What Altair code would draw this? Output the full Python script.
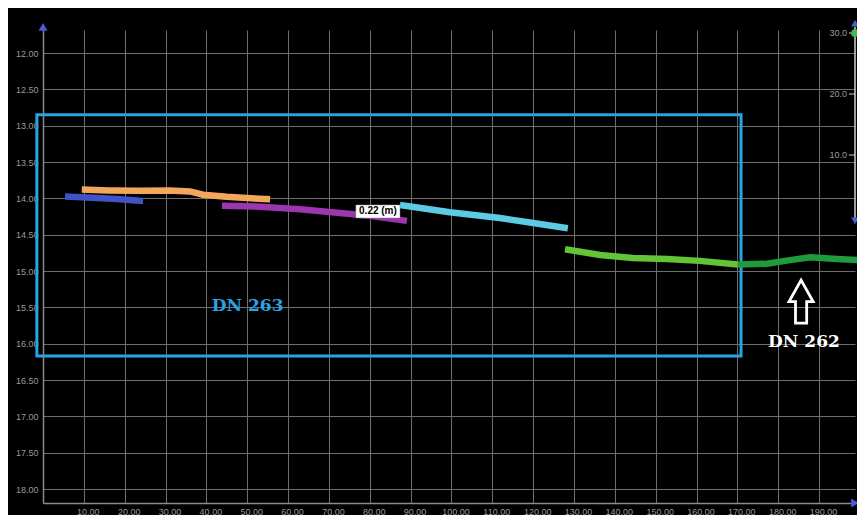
import altair as alt
import pandas as pd

# ---- profile segments (distance, elevation) ----
blue_x = [5.4, 12.0, 18.0, 24.5]
blue_y = [13.975, 13.99, 14.01, 14.035]
orange_x = [9.5, 16.0, 23.7, 31.1, 36.0, 39.2, 45.0, 50.0, 55.6]
orange_y = [13.878, 13.89, 13.895, 13.89, 13.905, 13.95, 13.978, 13.995, 14.013]
purple_x = [43.8, 53.1, 62.9, 72.7, 80.0, 89.1]
purple_y = [14.10, 14.115, 14.15, 14.20, 14.24, 14.31]
cyan_x = [87.4, 99.6, 111.9, 120.0, 128.5]
cyan_y = [14.09, 14.19, 14.27, 14.34, 14.41]
lgreen_x = [127.8, 136.4, 144.4, 152.8, 160.8, 170.1]
lgreen_y = [14.70, 14.78, 14.82, 14.835, 14.86, 14.91]
dgreen_x = [170.1, 177.2, 182.9, 187.8, 194.4, 199.5]
dgreen_y = [14.91, 14.90, 14.85, 14.81, 14.835, 14.85]

seg_names = ["blue", "orange", "purple", "cyan", "lgreen", "dgreen"]
seg_colors = ["#4253c6", "#f4a75c", "#9b36ae", "#5ccbe3", "#62c436", "#1f9a3c"]
seg_x = [blue_x, orange_x, purple_x, cyan_x, lgreen_x, dgreen_x]
seg_y = [blue_y, orange_y, purple_y, cyan_y, lgreen_y, dgreen_y]

# axis ticks
x_ticks = [10, 20, 30, 40, 50, 60, 70, 80, 90, 100, 110, 120, 130, 140, 150,
           160, 170, 180, 190]
y_ticks = [12.0, 12.5, 13.0, 13.5, 14.0, 14.5, 15.0, 15.5, 16.0, 16.5, 17.0,
           17.5, 18.0]
x_domain = [0, 198.8]
y_domain = [11.683, 18.192]

# secondary (right) axis
sec_ticks = [10, 20, 30]
sec_domain = [0, 30]

# annotations
box_x = [-1.5, 170.9]
box_y = [12.85, 16.17]
diff_label = "0.22 (m)"
diff_box_x = [76.6, 87.4]
diff_box_y = [14.09, 14.27]
diff_pos = [82.0, 14.18]
dn263_pos = [50.1, 15.48]
dn262_pos = [186.3, 15.98]
arrow_pos = [185.6, 15.42]

rows = []
for n, xs, ys in zip(seg_names, seg_x, seg_y):
    for i, (a, b) in enumerate(zip(xs, ys)):
        rows.append({"seg": n, "x": a, "y": b, "i": i})
seg_df = pd.DataFrame(rows)

X = alt.X("x:Q", scale=alt.Scale(domain=x_domain, nice=False, zero=False),
          axis=alt.Axis(values=x_ticks, format=".2f", title=None, labelOffset=4,
                        labelPadding=4, labelOverlap=False))
Y = alt.Y("y:Q", scale=alt.Scale(domain=y_domain, nice=False, zero=False, reverse=True),
          axis=alt.Axis(values=y_ticks, format=".2f", title=None, labelPadding=5,
                        labelOverlap=False))

box = alt.Chart(pd.DataFrame({"x": [box_x[0]], "x2": [box_x[1]],
                              "y": [box_y[0]], "y2": [box_y[1]]})).mark_rect(
    fillOpacity=0, stroke="#2aa3e2", strokeWidth=3).encode(x=X, x2="x2:Q", y=Y, y2="y2:Q")

lines = alt.Chart(seg_df).mark_line(strokeWidth=6.5, strokeCap="butt").encode(
    x=X, y=Y,
    color=alt.Color("seg:N", scale=alt.Scale(domain=seg_names, range=seg_colors), legend=None),
    detail="seg:N", order="i:Q")

lab_box = alt.Chart(pd.DataFrame({"x": [diff_box_x[0]], "x2": [diff_box_x[1]],
                                  "y": [diff_box_y[0]], "y2": [diff_box_y[1]]})).mark_rect(
    fill="white", stroke="#888888", strokeWidth=0.5).encode(x=X, x2="x2:Q", y=Y, y2="y2:Q")
lab_txt = alt.Chart(pd.DataFrame({"x": [diff_pos[0]], "y": [diff_pos[1]], "t": [diff_label]})).mark_text(
    color="black", fontSize=10, fontWeight="bold", font="Liberation Sans").encode(x=X, y=Y, text="t:N")

dn263 = alt.Chart(pd.DataFrame({"x": [dn263_pos[0]], "y": [dn263_pos[1]], "t": ["DN 263"]})).mark_text(
    color="#2aa3e2", fontSize=17, fontWeight="bold", font="DejaVu Serif").encode(x=X, y=Y, text="t:N")
dn262 = alt.Chart(pd.DataFrame({"x": [dn262_pos[0]], "y": [dn262_pos[1]], "t": ["DN 262"]})).mark_text(
    color="white", fontSize=17, fontWeight="bold", font="DejaVu Serif").encode(x=X, y=Y, text="t:N")

arrow_path = "M0,-1L0.56,0L0.26,0L0.26,1L-0.26,1L-0.26,0L-0.56,0Z"
arrow = alt.Chart(pd.DataFrame({"x": [arrow_pos[0]], "y": [arrow_pos[1]]})).mark_point(
    shape=arrow_path, size=1849, filled=False, stroke="white", strokeWidth=2.8, opacity=1).encode(x=X, y=Y)

ax_arrows = alt.Chart(pd.DataFrame({"x": [0, 198.8], "y": [11.64, 18.192],
                                    "s": ["triangle-up", "triangle-right"]})).mark_point(
    filled=True, color="#4a5cd6", size=80, opacity=1).encode(
    x=X, y=Y, shape=alt.Shape("s:N", scale=None))

main = alt.layer(box, lines, lab_box, lab_txt, dn263, dn262, arrow, ax_arrows)

# secondary axis on the right edge
SY = alt.Scale(domain=sec_domain, range=[186, 3], nice=False, zero=False)
sec_df = pd.DataFrame({"v": sec_ticks, "t": [f"{v:.1f}" for v in sec_ticks]})
sec_line = alt.Chart(pd.DataFrame({"a": [31.0], "b": [-1.0]})).mark_rule(
    color="#d0d0d0", strokeWidth=1.5).encode(
    x=alt.value(812), y=alt.Y("a:Q", scale=SY, axis=None), y2="b:Q")
sec_tick = alt.Chart(sec_df).mark_rule(color="#d0d0d0", strokeWidth=1).encode(
    x=alt.value(806), x2=alt.value(812), y=alt.Y("v:Q", scale=SY, axis=None))
sec_lab = alt.Chart(sec_df).mark_text(align="right", baseline="middle", color="#9a9a9a",
                                      fontSize=9, font="Liberation Sans").encode(
    x=alt.value(804), y=alt.Y("v:Q", scale=SY, axis=None), text="t:N")
sec_marks = alt.Chart(pd.DataFrame({"v": [31.6, 30.0, -0.8],
                                    "s": ["triangle-up", "circle", "triangle-down"],
                                    "c": ["#4a5cd6", "#3fbf4a", "#4a5cd6"]})).mark_point(
    filled=True, size=60, opacity=1).encode(
    x=alt.value(812), y=alt.Y("v:Q", scale=SY, axis=None),
    shape=alt.Shape("s:N", scale=None), color=alt.Color("c:N", scale=None))
secondary = alt.layer(sec_line, sec_tick, sec_lab, sec_marks)

chart = alt.layer(main, secondary).resolve_scale(y="independent").properties(
    width=812, height=473,
    autosize=alt.AutoSizeParams(type="none"),
    padding={"left": 35, "top": 22, "right": 2, "bottom": 12},
).configure(background="black").configure_view(stroke=None).configure_axis(
    gridColor="#6e6e6e", gridWidth=1, domainColor="#8a8a8a", domainWidth=1.5,
    labelColor="#9a9a9a", labelFont="Liberation Sans", labelFontSize=9, ticks=False)

chart.save("out.html", embed_options={"renderer": "svg", "actions": False})
